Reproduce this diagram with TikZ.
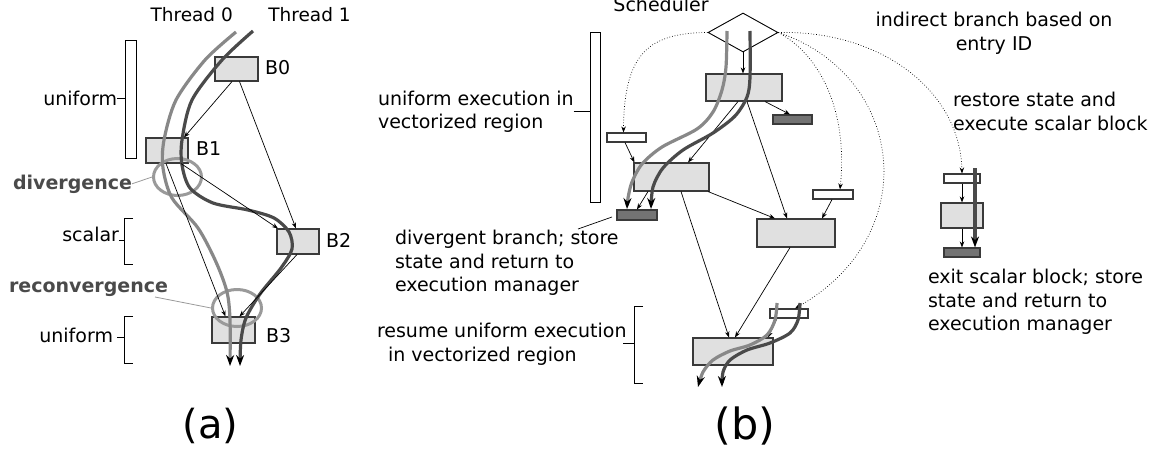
\documentclass[tikz,border=0pt]{standalone}
\usepackage{fontspec}
\setmainfont{DejaVu Sans}
\usetikzlibrary{arrows.meta,shapes.geometric}
\definecolor{blkfill}{HTML}{E0E0E0}
\definecolor{edge}{HTML}{3A3A3A}
\definecolor{exitfill}{HTML}{737373}
\definecolor{thA}{HTML}{888888}
\definecolor{thB}{HTML}{4A4A4A}
\definecolor{ringc}{HTML}{9A9A9A}
\definecolor{lbl}{HTML}{4A4A4A}
\begin{document}
\begin{tikzpicture}[x=1pt,y=-1pt,
  txt/.style={font=\fontsize{19}{23.5}\selectfont, inner sep=0pt, outer sep=0pt},
  headtxt/.style={font=\fontsize{18.5}{22}\selectfont, inner sep=0pt, outer sep=0pt},
  boldtxt/.style={font=\fontsize{19}{23.5}\selectfont\bfseries, text=lbl, inner sep=0pt, outer sep=0pt},
  blk/.style 2 args={draw=edge, fill=blkfill, line width=1.1pt, inner sep=0pt, minimum width=#1, minimum height=#2},
  exitblk/.style 2 args={draw=edge, fill=exitfill, line width=1.1pt, inner sep=0pt, minimum width=#1, minimum height=#2},
  entryblk/.style 2 args={draw=edge, fill=white, line width=1.1pt, inner sep=0pt, minimum width=#1, minimum height=#2},
  bar/.style 2 args={draw=black, fill=white, line width=0.9pt, inner sep=0pt, minimum width=#1, minimum height=#2},
  ring/.style 2 args={ellipse, draw=ringc, line width=3pt, inner sep=0pt, minimum width=#1, minimum height=#2},
  arr/.style={-{Stealth[length=6pt,width=4.5pt]}, line width=0.7pt, black},
  dotarr/.style={arr, dotted},
  lead/.style={line width=0.7pt, black},
  graylead/.style={line width=0.8pt, ringc},
  thrA/.style={draw=thA, line width=3.2pt, line join=round, -{Stealth[length=11pt,width=8pt,color=black]}},
  thrB/.style={draw=thB, line width=3.2pt, line join=round, -{Stealth[length=11pt,width=8pt,color=black]}},
  cap/.style={font=\fontsize{#1}{#1}\selectfont, inner sep=0pt}
]
\useasboundingbox (0,0) rectangle (1164,450);

% ---------------- (a) per-thread view ----------------
\node[headtxt, anchor=base west] (th0) at (150.5,21.7) {Thread 0};
\node[headtxt, anchor=base west] (th1) at (268.3,21.7) {Thread 1};

\node[bar={11}{118}] (ubarA) at (130.5,99) {};
\node[txt, anchor=base east] (uniA) at (117,105) {uniform};
\draw[lead] (uniA.east) -- (uniA.east -| ubarA.west);

\node[blk={43}{24}] (B0) at (236.5,69) {};
\node[blk={42}{25}] (B1) at (167,150.5) {};
\node[blk={42}{25}] (B2) at (298,241.5) {};
\node[blk={43}{26}] (B3) at (233.5,330) {};
\node[txt, anchor=base west] (lB0) at (265,74) {B0};
\node[txt, anchor=base west] (lB1) at (196,155.5) {B1};
\node[txt, anchor=base west] (lB2) at (326,247.5) {B2};
\node[txt, anchor=base west] (lB3) at (266,342) {B3};

% divergence / reconvergence rings
\node[ring={48}{37}] (divR) at (177.5,177) {};
\node[ring={49}{37}] (recR) at (237,308) {};
\node[boldtxt, anchor=base east] (divL) at (132,189) {divergence};
\node[boldtxt, anchor=base east] (recL) at (168,292) {reconvergence};
\draw[graylead] (divL.east) -- (divR.west);
\coordinate (recfoot) at (155,297);
\draw[graylead] (recfoot) -- (recR.west);

% brackets for the scalar and uniform regions
\node[txt, anchor=base east] (scalA) at (119,241.5) {scalar};
\draw[lead] (133,218) -- (124,218) -- (124,264) -- (133,264);
\draw[lead] (scalA.base east) ++(0,-1.5) -- (124,240);
\node[txt, anchor=base east] (uniB) at (113,342.5) {uniform};
\draw[lead] (133,316) -- (124,316) -- (124,363) -- (133,363);
\draw[lead] (117,337) -- (124,337);

% threads
\draw[thrA] plot[smooth] coordinates {(236,32) (205,60) (176,100) (164,140) (163,168) (172,198) (198,228) (216,262) (227,292) (230,320) (230,366)};
\draw[thrB] plot[smooth] coordinates {(253,31) (222,60) (192,100) (182,140) (182,165) (190,188) (213,203) (248,210) (274,218) (289,232) (292,249) (281,268) (260,294) (246,318) (241,340) (240,366)};

% control flow edges
\draw[arr] ([xshift=-4.5pt]B0.south) -- ([xshift=17pt]B1.north);
\draw[arr] ([xshift=3pt]B0.south) -- ([xshift=-2pt]B2.north);
\draw[arr] ([xshift=14pt]B1.south) -- ([xshift=-20pt]B2.north);
\draw[arr] ([xshift=-1pt]B1.south) -- ([xshift=-8pt]B3.north);
\draw[arr] ([xshift=-1pt]B2.south) -- ([xshift=6pt]B3.north);

\node[cap=40, anchor=base] (capA) at (210.5,438) {(a)};

% ---------------- (b) execution manager view ----------------
\node[txt, anchor=base] (schedL) at (661,11.5) {Scheduler};
\node[diamond, draw=black, line width=0.9pt, fill=white, inner sep=0pt, shape aspect=1.8, minimum width=70pt, minimum height=39pt] (S) at (743,32.5) {};

\node[bar={10}{170}] (ubarB) at (595,117) {};
\node[txt, anchor=base west, align=left] (uexec) at (378,128.5) {uniform execution in\\vectorized region};
\draw[lead] (uexec.east) -- (uexec.east -| ubarB.west);

\node[blk={76}{27}] (T) at (744,87.5) {};
\node[exitblk={39}{9}] (E1) at (792.5,119.5) {};
\node[entryblk={39}{9}] (W1) at (626.5,137.5) {};
\node[blk={75}{28}] (M1) at (671.5,177) {};
\node[exitblk={40}{10}] (D1) at (637,215) {};
\node[entryblk={40}{9}] (W2) at (833,194.5) {};
\node[blk={78}{28}] (M2) at (796,233) {};
\node[entryblk={38}{9}] (W3) at (789,313.5) {};
\node[blk={80}{27}] (M3) at (733,351.5) {};

% scalar block on the right
\node[entryblk={36}{9}] (SW) at (962,178.5) {};
\node[blk={42}{25}] (SB) at (962,215.5) {};
\node[exitblk={36}{9}] (SD) at (962,252.5) {};

% control flow edges
\draw[arr] (S.south) -- (S.south |- T.north);
\draw[arr] ([xshift=21pt]T.south) -- ([xshift=-2.5pt]E1.north);
\draw[arr] ([xshift=-1.5pt]W1.south) -- ([xshift=1pt]M1.north west);
\draw[arr] ([xshift=-6pt]T.south) -- ([xshift=16.5pt]M1.north);
\draw[arr] ([xshift=3pt]T.south) -- ([xshift=-9pt]M2.north);
\draw[arr] ([xshift=-23.5pt]M1.south) -- (D1.north);
\draw[arr] ([xshift=-1.5pt]M1.south east) -- ([xshift=-21pt]M2.north);
\draw[arr] ([xshift=9.5pt]M1.south) -- ([xshift=-4pt]M3.north);
\draw[arr] ([xshift=-6pt]M2.south) -- ([xshift=2pt]M3.north);
\draw[arr] ([xshift=-1pt]W2.south) -- ([xshift=26pt]M2.north);
\draw[arr] ([xshift=-12pt]W3.south) -- ([xshift=35pt]M3.north);
\draw[arr] (SW.south) -- (SB.north);
\draw[arr] (SB.south) -- (SD.north);

% indirect branches from the scheduler
\draw[dotarr] (S.west) .. controls (650,33) and (624,52) .. ([xshift=-3pt]W1.north);
\draw[dotarr] (S.east) .. controls (820,55) and (848,110) .. ([xshift=7pt]W2.north);
\draw[dotarr] (S.east) .. controls (905,75) and (925,235) .. ([xshift=6pt]W3.north);
\draw[dotarr] (S.east) .. controls (880,30) and (960,90) .. (SW.north);

% threads
\draw[thrA] plot[smooth] coordinates {(727,31) (726,67) (722,90) (713,112) (697,129) (662,147) (642,164) (632,182) (628,198) (627,209)};
\draw[thrB] plot[smooth] coordinates {(750,31) (750,77) (747,97) (735,116) (713,133) (683,150) (663,168) (653,187) (651,209)};
\draw[thrA] plot[smooth] coordinates {(777,303) (775,320) (767,335) (750,345) (730,351) (713,360) (703,372) (698,387)};
\draw[thrB] plot[smooth] coordinates {(800,303) (798,320) (790,333) (770,343) (747,350) (730,360) (723,372) (722,387)};
\draw[thrB] (975,168) -- (SD.north -| 975,0);

% labels
\coordinate (dvfoot) at (578,229);
\coordinate (dvtip) at (612,217);
\draw[lead] (dvfoot) -- (dvtip);
\node[txt, anchor=base west, align=left] (dvL) at (395,291.5) {divergent branch; store\\state and return to\\execution manager};

\node[txt, anchor=base west, align=left] (resL) at (377,361) {resume uniform execution\\\hspace*{11pt}in vectorized region};
\draw[lead] (643,306) -- (634,306) -- (634,383) -- (643,383);
\draw[lead] (623,343) -- (634,343);

\node[txt, anchor=base, align=center] (indL) at (994,50) {indirect branch based on\\entry ID};
\node[txt, anchor=base west, align=left] (rstL) at (953,130) {restore state and\\execute scalar block};
\node[txt, anchor=base west, align=left] (exL) at (928,330.5) {exit scalar block; store\\state and return to\\execution manager};

\node[cap=43, anchor=base] (capB) at (745,439) {(b)};
\end{tikzpicture}
\end{document}
